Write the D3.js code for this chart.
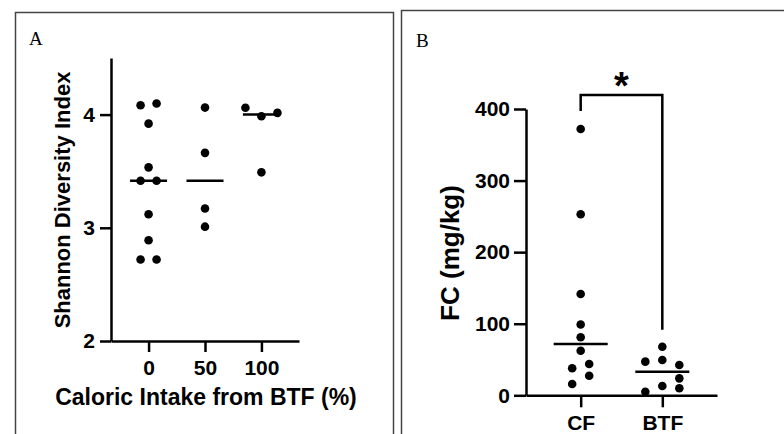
<!DOCTYPE html>
<html>
<head>
<meta charset="utf-8">
<script src="https://cdn.jsdelivr.net/npm/d3@7"></script>
<style>
  body { margin: 0; background: #fff; }
  svg { display: block; }
  .axis path, .axis line { stroke: #000; stroke-width: 2.5; }
  .axis text { font-family: "Liberation Sans", Arial, sans-serif; font-weight: bold; font-size: 21px; fill: #000; }
  .title { font-family: "Liberation Sans", Arial, sans-serif; font-weight: bold; font-size: 20px; }
  .panel-label { font-family: "Liberation Serif", "Times New Roman", serif; font-size: 19px; }
</style>
</head>
<body>
<div id="chart"></div>
<script>
// panel A: Shannon diversity by caloric intake from BTF
var intakeGroups = [0, 50, 100];
var shannon0 = [4.083, 4.098, 3.92, 3.534, 3.415, 3.415, 3.12, 2.89, 2.72, 2.72];
var shannon50 = [4.062, 3.662, 3.17, 3.01];
var shannon100 = [4.06, 3.985, 4.015, 3.49];
var shannonTicks = [2, 3, 4];

// panel B: FC by feeding type
var feedGroups = ["CF", "BTF"];
var fcCF = [372, 253, 141.5, 99, 81, 62.3, 37.7, 43.7, 15.8, 27.4];
var fcBTF = [67.9, 47, 49.3, 42.3, 23.7, 5, 13, 9.8];
var fcTicks = [0, 100, 200, 300, 400];

var width = 784, height = 434;
var r = 4.3;

var svg = d3.select("#chart").append("svg")
  .attr("width", width)
  .attr("height", height);

// panel borders
svg.append("rect")
  .attr("x", 15.5).attr("y", 12.5)
  .attr("width", 378).attr("height", 440)
  .attr("fill", "none").attr("stroke", "#444").attr("stroke-width", 1.5);
svg.append("rect")
  .attr("x", 401.5).attr("y", 10.5)
  .attr("width", 400).attr("height", 440)
  .attr("fill", "none").attr("stroke", "#444").attr("stroke-width", 1.5);

svg.append("text").attr("class", "panel-label").attr("x", 29).attr("y", 45).text("A");
svg.append("text").attr("class", "panel-label").attr("x", 416).attr("y", 47).text("B");

// rows of dots are spread sideways, bottom row first, like a prism scatter plot
function swarm(values, yScale, cx, step) {
  var idx = values.map(function(v, i) { return i; });
  idx.sort(function(a, b) { return values[a] - values[b]; });
  var rows = [];
  idx.forEach(function(i) {
    var last = rows[rows.length - 1];
    if (last && yScale(values[last[0]]) - yScale(values[i]) < 2 * r + 0.5) {
      last.push(i);
    } else {
      rows.push([i]);
    }
  });
  var placed = [];
  rows.forEach(function(row) {
    row.sort(function(a, b) { return a - b; });
    row.forEach(function(i, k) {
      var y = yScale(values[i]);
      var off = (k - (row.length - 1) / 2) * step;
      var tries = [0, step, -step, 2 * step, -2 * step];
      for (var t = 0; t < tries.length; t++) {
        var x = cx + off + tries[t];
        var hit = placed.some(function(p) {
          return Math.hypot(p.x - x, p.y - y) < 2 * r;
        });
        if (!hit) { off = off + tries[t]; break; }
      }
      placed.push({ x: cx + off, y: y, v: values[i] });
    });
  });
  return placed;
}

// ---------- panel A ----------
var xA = d3.scaleLinear().domain([-33.3, 133.3]).range([111, 299]);
var yA = d3.scaleLinear().domain([2, 4.5]).range([341, 58]);

svg.append("g")
  .attr("class", "axis")
  .attr("transform", "translate(" + xA.range()[0] + ",0)")
  .call(d3.axisLeft(yA).tickValues(shannonTicks).tickFormat(d3.format("d"))
    .tickSize(11).tickSizeOuter(0).tickPadding(5));

svg.append("g")
  .attr("class", "axis")
  .attr("transform", "translate(0," + yA.range()[0] + ")")
  .call(d3.axisBottom(xA).tickValues(intakeGroups).tickFormat(d3.format("d"))
    .tickSize(11).tickSizeOuter(0).tickPadding(8));

var seriesA = [shannon0, shannon50, shannon100];
seriesA.forEach(function(vals, g) {
  var cx = xA(intakeGroups[g]);
  var pts = swarm(vals, yA, cx, 16);
  svg.append("g").selectAll("circle")
    .data(pts)
    .enter().append("circle")
    .attr("cx", function(d) { return d.x; })
    .attr("cy", function(d) { return d.y; })
    .attr("r", r)
    .attr("fill", "#000");
  var med = d3.median(vals);
  svg.append("line")
    .attr("x1", cx - 18.5).attr("x2", cx + 18.5)
    .attr("y1", yA(med)).attr("y2", yA(med))
    .attr("stroke", "#000").attr("stroke-width", 2.5);
});

svg.append("text")
  .attr("class", "title")
  .attr("text-anchor", "middle")
  .attr("x", 206).attr("y", 405)
  .style("font-size", "23px")
  .text("Caloric Intake from BTF (%)");

svg.append("text")
  .attr("class", "title")
  .attr("text-anchor", "middle")
  .attr("transform", "translate(70,200) rotate(-90)")
  .style("font-size", "22px")
  .text("Shannon Diversity Index");

// ---------- panel B ----------
var xB = d3.scalePoint().domain(feedGroups).range([526, 717]).padding(0.67);
var yB = d3.scaleLinear().domain([0, 400]).range([395.3, 109]);

svg.append("g")
  .attr("class", "axis")
  .attr("transform", "translate(" + xB.range()[0] + ",0)")
  .call(d3.axisLeft(yB).tickValues(fcTicks).tickSize(12).tickSizeOuter(0).tickPadding(4));

svg.append("g")
  .attr("class", "axis")
  .attr("transform", "translate(0," + yB.range()[0] + ")")
  .call(d3.axisBottom(xB).tickSize(12).tickSizeOuter(0).tickPadding(8));

var seriesB = [fcCF, fcBTF];
seriesB.forEach(function(vals, g) {
  var cx = xB(feedGroups[g]);
  var pts = swarm(vals, yB, cx, 17);
  svg.append("g").selectAll("circle")
    .data(pts)
    .enter().append("circle")
    .attr("cx", function(d) { return d.x; })
    .attr("cy", function(d) { return d.y; })
    .attr("r", r)
    .attr("fill", "#000");
  var med = d3.median(vals);
  svg.append("line")
    .attr("x1", cx - 27).attr("x2", cx + 27)
    .attr("y1", yB(med)).attr("y2", yB(med))
    .attr("stroke", "#000").attr("stroke-width", 2.5);
});

// significance bracket
var leftTop = yB(d3.max(fcCF)) - 18;
var rightTop = yB(d3.max(fcBTF)) - 17;
var barY = leftTop - 16;
svg.append("path")
  .attr("d", "M" + xB("CF") + "," + leftTop + "V" + barY + "H" + xB("BTF") + "V" + rightTop)
  .attr("fill", "none").attr("stroke", "#000").attr("stroke-width", 2.5);
svg.append("text")
  .attr("class", "title")
  .attr("text-anchor", "middle")
  .attr("x", (xB("CF") + xB("BTF")) / 2)
  .attr("y", barY + 4)
  .style("font-size", "38px")
  .text("*");

svg.append("text")
  .attr("class", "title")
  .attr("text-anchor", "middle")
  .attr("transform", "translate(459,253) rotate(-90)")
  .style("font-size", "26px")
  .text("FC (mg/kg)");
</script>
</body>
</html>
